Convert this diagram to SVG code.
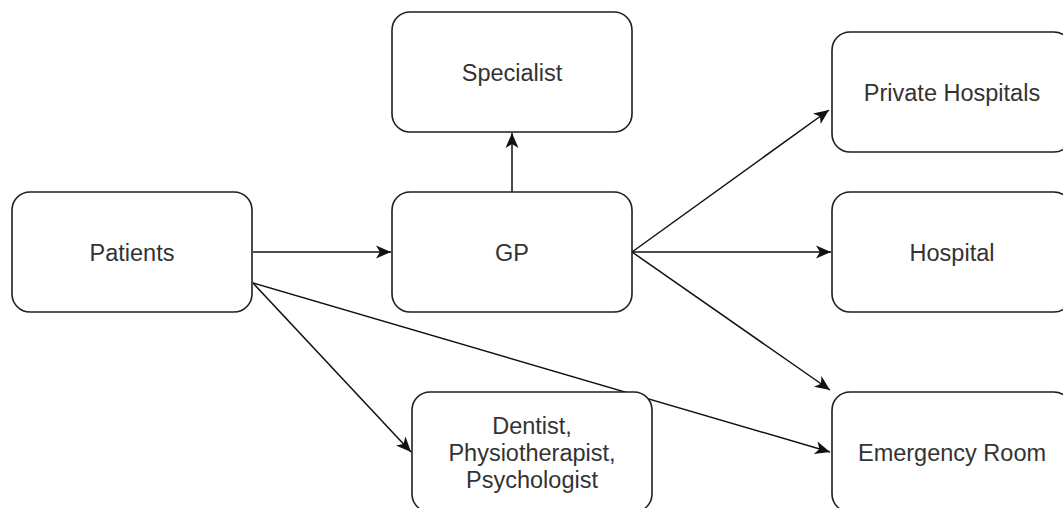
<svg xmlns="http://www.w3.org/2000/svg" width="1063" height="508" viewBox="0 0 1063 508">
  <style>
    .box { fill: #ffffff; stroke: #1e1e1e; stroke-width: 1.6; }
    .lbl { font-family: "Liberation Sans", Arial, sans-serif; font-size: 23.5px; fill: #333333; text-anchor: middle; }
    .edge { fill: none; stroke: #111111; stroke-width: 1.5; marker-end: url(#arrow); }
  </style>
  <defs>
    <marker id="arrow" markerUnits="userSpaceOnUse" markerWidth="18" markerHeight="16" viewBox="0 0 18 16" refX="16" refY="8" orient="auto">
      <path d="M1,1.5 L16,8 L1,14.5 L5,8 Z" fill="#111111"/>
    </marker>
  </defs>
  <rect width="1063" height="508" fill="#ffffff"/>

  <g id="connectors">
    <line class="edge" x1="253" y1="252" x2="391" y2="252"/>
    <line class="edge" x1="512" y1="192" x2="512" y2="133"/>
    <line class="edge" x1="632" y1="252" x2="829" y2="110"/>
    <line class="edge" x1="632" y1="252" x2="831" y2="252"/>
    <line class="edge" x1="632" y1="252" x2="830" y2="390"/>
    <line class="edge" x1="253" y1="283" x2="411" y2="452"/>
    <line class="edge" x1="253" y1="283" x2="830" y2="452"/>
  </g>

  <g id="patients">
    <rect class="box" x="12" y="192" width="240" height="120" rx="18" ry="18"/>
    <text class="lbl" x="132" y="261">Patients</text>
  </g>
  <g id="specialist">
    <rect class="box" x="392" y="12" width="240" height="120" rx="18" ry="18"/>
    <text class="lbl" x="512" y="81">Specialist</text>
  </g>
  <g id="gp">
    <rect class="box" x="392" y="192" width="240" height="120" rx="18" ry="18"/>
    <text class="lbl" x="512" y="261">GP</text>
  </g>
  <g id="private-hospitals">
    <rect class="box" x="832" y="32" width="240" height="120" rx="18" ry="18"/>
    <text class="lbl" x="952" y="101">Private Hospitals</text>
  </g>
  <g id="hospital">
    <rect class="box" x="832" y="192" width="240" height="120" rx="18" ry="18"/>
    <text class="lbl" x="952" y="261">Hospital</text>
  </g>
  <g id="emergency-room">
    <rect class="box" x="832" y="392" width="240" height="120" rx="18" ry="18"/>
    <text class="lbl" x="952" y="461">Emergency Room</text>
  </g>
  <g id="dentist-physio-psych">
    <rect class="box" x="412" y="392" width="240" height="120" rx="18" ry="18"/>
    <text class="lbl" x="532" y="434">Dentist,</text>
    <text class="lbl" x="532" y="461">Physiotherapist,</text>
    <text class="lbl" x="532" y="488">Psychologist</text>
  </g>
</svg>
